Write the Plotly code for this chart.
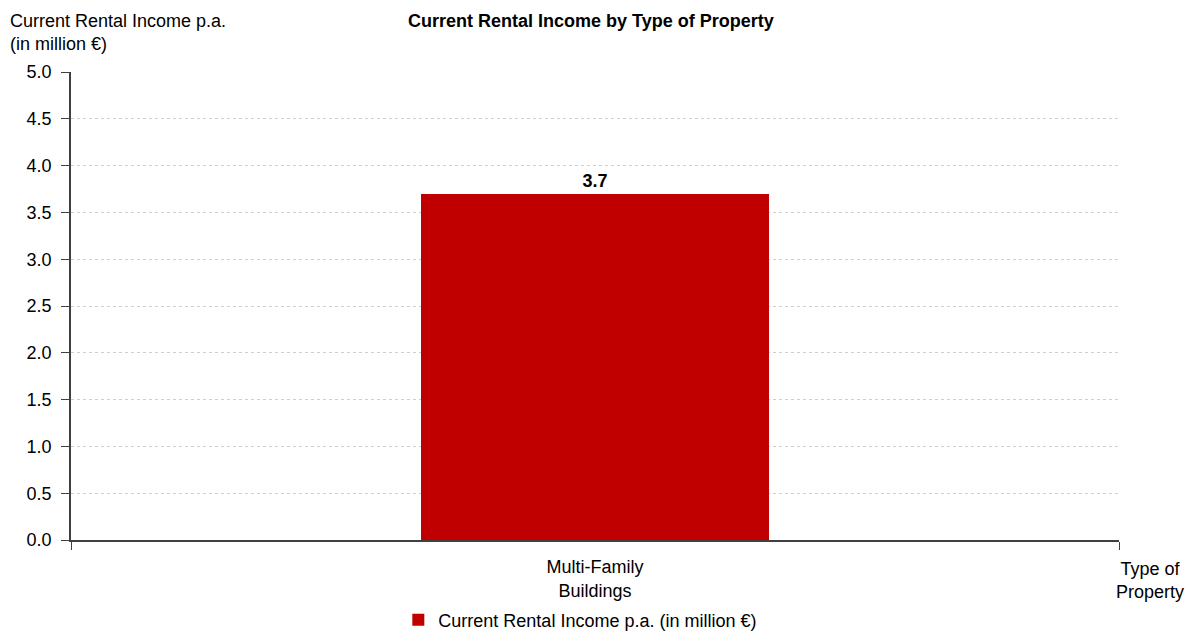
import plotly.graph_objects as go

# Chart data
categories = ["Multi-Family<br>Buildings"]
rental_income = [3.7]  # million € p.a.
series_name = "Current Rental Income p.a. (in million €)"
y_ticks = [0.0, 0.5, 1.0, 1.5, 2.0, 2.5, 3.0, 3.5, 4.0, 4.5, 5.0]

FONT = "Liberation Sans Narrow, Arial Narrow, Liberation Sans, Arial, sans-serif"
RED = "#C00000"
AXIS = "#404040"

fig = go.Figure()
fig.add_trace(go.Bar(
    x=categories,
    y=rental_income,
    name=series_name,
    marker=dict(color=RED, line=dict(width=0)),
    width=0.332,
    text=[f"<b>{v:.1f}</b>" for v in rental_income],
    textposition="outside",
    textfont=dict(size=18, color="#000000", family=FONT),
    cliponaxis=False,
))

fig.update_layout(
    width=1193,
    height=632,
    margin=dict(l=71, r=74, t=72, b=92, autoexpand=False),
    paper_bgcolor="white",
    plot_bgcolor="white",
    font=dict(family=FONT, size=18, color="#000000"),
    title=dict(
        text="<b>Current Rental Income by Type of Property</b>",
        x=0.496, xref="paper", xanchor="center",
        y=0.967, yanchor="middle",
        font=dict(size=18, family=FONT, color="#000000"),
    ),
    showlegend=True,
    legend=dict(
        orientation="h",
        x=0.486, xanchor="center",
        y=-0.171, yanchor="middle",
        font=dict(size=18, family=FONT),
        itemwidth=30,
    ),
    bargap=0.0,
)

fig.update_xaxes(
    range=[-0.5, 0.5],
    showline=True, linecolor=AXIS, linewidth=1.5,
    ticks="outside", tickson="boundaries", ticklen=8, tickcolor=AXIS,
    ticklabelstandoff=10,
    showgrid=False,
    tickfont=dict(size=18, family=FONT),
)

fig.update_yaxes(
    range=[0, 5.0],
    tickvals=y_ticks,
    ticktext=[f"{v:.1f}" for v in y_ticks],
    showline=True, linecolor=AXIS, linewidth=1.5,
    ticks="outside", ticklen=8, tickcolor=AXIS,
    ticklabelstandoff=6,
    showgrid=True, gridcolor="#CFCFCF", griddash="dot", gridwidth=1,
    zeroline=False,
    tickfont=dict(size=18, family=FONT),
)

# Axis titles placed at the axis ends
fig.add_annotation(
    text="Current Rental Income p.a.<br>(in million €)",
    xref="paper", yref="paper", x=-0.0601, y=1.084,
    xanchor="left", yanchor="middle", align="left",
    showarrow=False, font=dict(size=18, family=FONT),
)
fig.add_annotation(
    text="Type of<br>Property",
    xref="paper", yref="paper", x=1.0296, y=-0.0855,
    xanchor="center", yanchor="middle", align="center",
    showarrow=False, font=dict(size=18, family=FONT),
)

fig.write_html("out.html")
